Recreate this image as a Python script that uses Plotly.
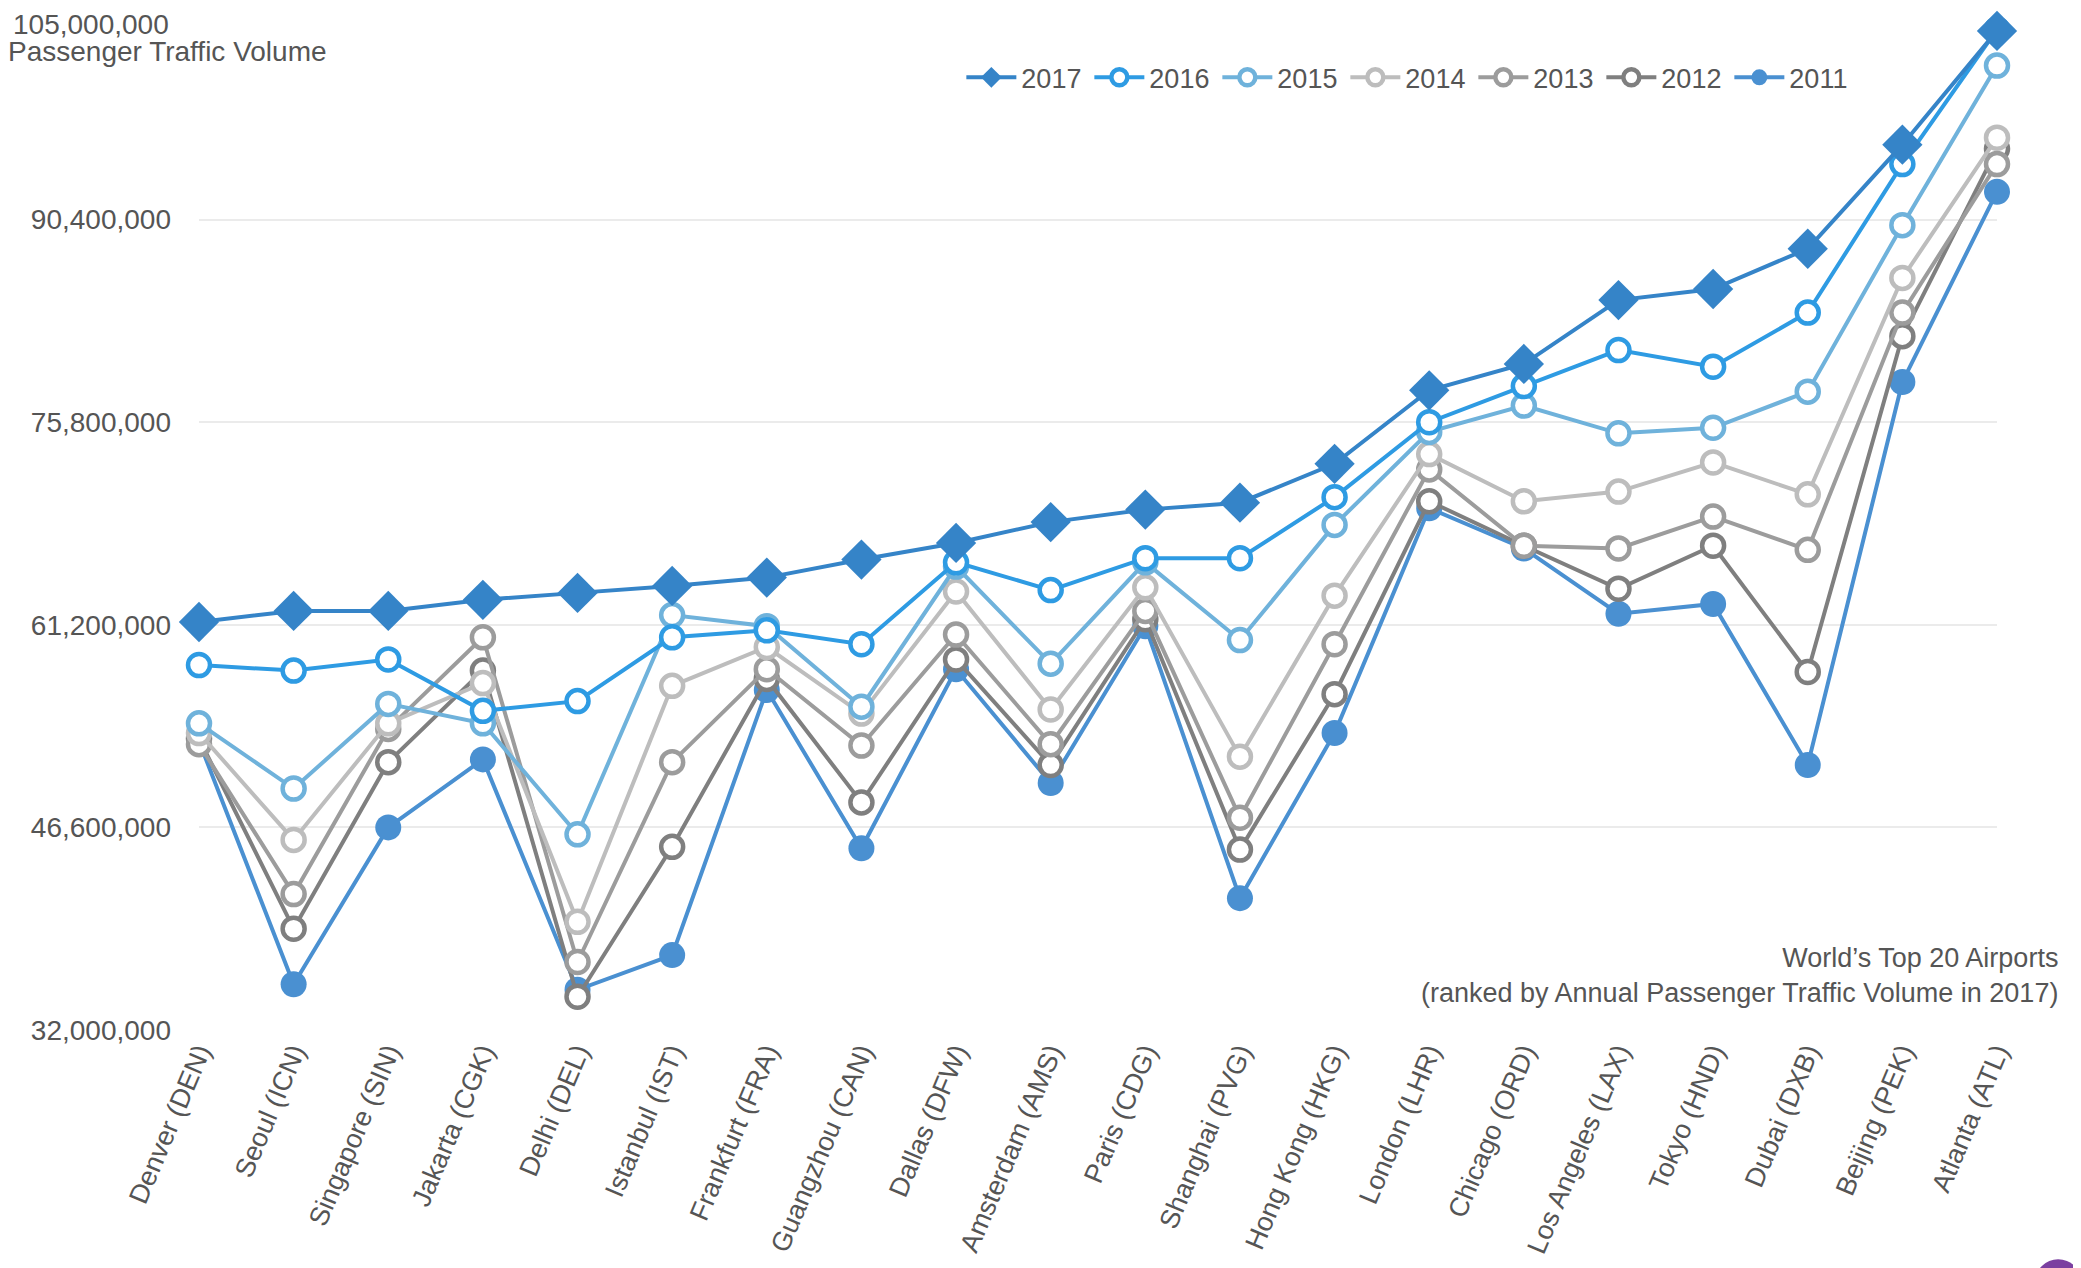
import plotly.graph_objects as go

airports = ["Denver (DEN)", "Seoul (ICN)", "Singapore (SIN)", "Jakarta (CGK)", "Delhi (DEL)",
            "Istanbul (IST)", "Frankfurt (FRA)", "Guangzhou (CAN)", "Dallas (DFW)", "Amsterdam (AMS)",
            "Paris (CDG)", "Shanghai (PVG)", "Hong Kong (HKG)", "London (LHR)", "Chicago (ORD)",
            "Los Angeles (LAX)", "Tokyo (HND)", "Dubai (DXB)", "Beijing (PEK)", "Atlanta (ATL)"]

y2017 = [61.4e6, 62.2e6, 62.2e6, 63.0e6, 63.5e6, 64.0e6, 64.6e6, 65.9e6, 67.1e6, 68.6e6,
         69.5e6, 70.0e6, 72.8e6, 78.1e6, 80.0e6, 84.6e6, 85.4e6, 88.3e6, 95.8e6, 104.0e6]
y2016 = [58.3e6, 57.9e6, 58.7e6, 55.0e6, 55.7e6, 60.3e6, 60.8e6, 59.8e6, 65.7e6, 63.7e6,
         66.0e6, 66.0e6, 70.4e6, 75.8e6, 78.4e6, 81.0e6, 79.8e6, 83.7e6, 94.4e6, 104.1e6]
y2015 = [54.1e6, 49.4e6, 55.5e6, 54.1e6, 46.1e6, 61.9e6, 61.1e6, 55.3e6, 65.4e6, 58.4e6,
         65.7e6, 60.1e6, 68.4e6, 75.1e6, 77.0e6, 75.0e6, 75.4e6, 78.0e6, 90.0e6, 101.5e6]
y2014 = [53.4e6, 45.7e6, 54.1e6, 57.0e6, 39.8e6, 56.8e6, 59.6e6, 54.8e6, 63.6e6, 55.1e6,
         63.9e6, 51.7e6, 63.3e6, 73.5e6, 70.1e6, 70.8e6, 72.9e6, 70.6e6, 86.2e6, 96.3e6]
y2013 = [52.6e6, 41.8e6, 53.7e6, 60.3e6, 36.9e6, 51.3e6, 58.0e6, 52.5e6, 60.5e6, 52.6e6,
         62.2e6, 47.3e6, 59.8e6, 72.4e6, 66.9e6, 66.7e6, 69.0e6, 66.6e6, 83.7e6, 94.4e6]
y2012 = [53.0e6, 39.3e6, 51.3e6, 57.9e6, 34.4e6, 45.2e6, 57.3e6, 48.4e6, 58.7e6, 51.1e6,
         61.6e6, 45.0e6, 56.2e6, 70.1e6, 66.9e6, 63.8e6, 66.9e6, 57.8e6, 82.0e6, 95.5e6]
y2011 = [52.8e6, 35.3e6, 46.6e6, 51.5e6, 34.9e6, 37.4e6, 56.5e6, 45.1e6, 58.0e6, 49.8e6,
         61.1e6, 41.5e6, 53.4e6, 69.6e6, 66.7e6, 62.0e6, 62.7e6, 51.1e6, 78.7e6, 92.4e6]

y_tickvals = [32.0e6, 46.6e6, 61.2e6, 75.8e6, 90.4e6, 105.0e6]
y_ticktext = ["32,000,000", "46,600,000", "61,200,000", "75,800,000", "90,400,000", "105,000,000"]

FONT = "Liberation Sans, Arial, sans-serif"
TXT = "#555555"

# drawn bottom-to-top: 2011 first, 2017 last
series = [
    ("2011", y2011, "#4A90D1", "filled_circle"),
    ("2012", y2012, "#7F7F7F", "open_circle"),
    ("2013", y2013, "#9C9C9C", "open_circle"),
    ("2014", y2014, "#BDBDBD", "open_circle"),
    ("2015", y2015, "#6FB2DB", "open_circle"),
    ("2016", y2016, "#2E9BE3", "open_circle"),
    ("2017", y2017, "#3584C8", "diamond"),
]

fig = go.Figure()
for name, vals, color, kind in series:
    if kind == "diamond":
        marker = dict(symbol="diamond", size=31, color=color, line=dict(width=0))
    elif kind == "filled_circle":
        marker = dict(symbol="circle", size=26, color=color, line=dict(width=0))
    else:
        marker = dict(symbol="circle", size=22, color="white", line=dict(width=4.5, color=color))
    fig.add_trace(go.Scatter(
        x=airports, y=vals, name=name, mode="lines+markers",
        line=dict(color=color, width=4), marker=marker, cliponaxis=False,
    ))

# top tick label is drawn as an annotation so it stays inside the page
axis_ticktext = y_ticktext[:-1] + [""]

fig.update_layout(
    width=2073, height=1260,
    margin=dict(l=191, r=84, t=9, b=238, autoexpand=False),
    paper_bgcolor="white", plot_bgcolor="white",
    font=dict(family=FONT, color=TXT, size=27),
    showlegend=True,
    legend=dict(orientation="h", traceorder="reversed",
                x=0.424, xanchor="left", y=0.94, yanchor="middle",
                font=dict(size=27, color=TXT, family=FONT),
                itemwidth=50, entrywidth=63, entrywidthmode="pixels",
                bgcolor="rgba(0,0,0,0)", itemsizing="trace"),
    xaxis=dict(range=[0, 19], showgrid=False, zeroline=False, showline=False,
               automargin=False,
               tickangle=-67, tickfont=dict(size=27, color=TXT, family=FONT),
               ticks="", fixedrange=True),
    yaxis=dict(range=[32e6, 105e6], tickvals=y_tickvals, ticktext=axis_ticktext,
               automargin=False,
               showgrid=True, gridcolor="#EBEBEB", gridwidth=1.5, zeroline=False,
               showline=False, ticks="", ticklabelstandoff=27,
               tickfont=dict(size=28, color=TXT, family=FONT)),
    annotations=[
        dict(text=y_ticktext[-1], xref="paper", yref="paper",
             x=-0.0161, xanchor="right", y=1.0089, yanchor="top", showarrow=False,
             borderpad=0, font=dict(size=28, color=TXT, family=FONT)),
        dict(text="Passenger Traffic Volume", xref="paper", yref="paper",
             x=-0.1075, xanchor="left", y=0.966, yanchor="middle", showarrow=False,
             font=dict(size=28, color=TXT, family=FONT)),
        dict(text="World’s Top 20 Airports<br>(ranked by Annual Passenger Traffic Volume in 2017)",
             xref="paper", yref="paper", x=1.035, xanchor="right", y=0.054, yanchor="middle",
             align="right", showarrow=False, font=dict(size=27, color=TXT, family=FONT)),
    ],
    shapes=[
        dict(type="circle", xref="paper", yref="paper",
             x0=1.034 - 0.0128, x1=1.034 + 0.0128, y0=-0.249 - 0.0228, y1=-0.249 + 0.0228,
             fillcolor="#7B3FA0", line=dict(width=0), layer="above"),
    ],
)

fig.write_html("out.html")
